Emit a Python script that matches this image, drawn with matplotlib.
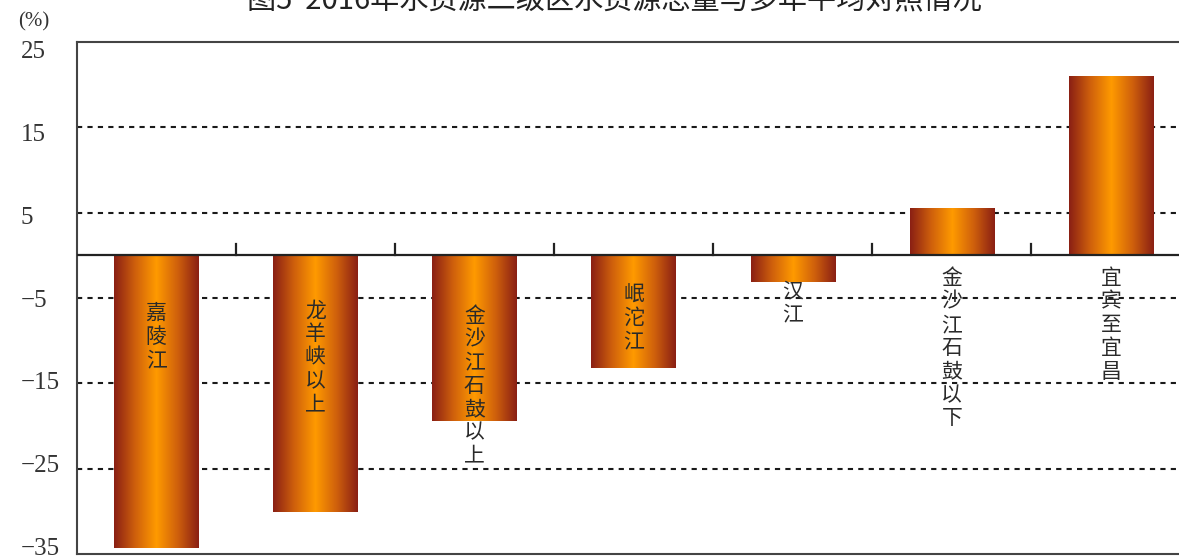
import numpy as np
import matplotlib
matplotlib.use('Agg')
import matplotlib.pyplot as plt
from matplotlib.colors import LinearSegmentedColormap
from matplotlib.transforms import ScaledTranslation

plt.rcParams['font.family'] = ['Noto Sans CJK SC', 'DejaVu Sans']

# 2016 water resources vs. long-term average, by secondary basin (%)
regions = ['嘉陵江', '龙羊峡以上', '金沙江石鼓以上', '岷沱江', '汉江', '金沙江石鼓以下', '宜宾至宜昌']
change = [-34.3, -30.1, -19.4, -13.2, -3.1, 5.4, 20.9]
yticks = [25, 15, 5, -5, -15, -25, -35]
title = '图5  2016年水资源二级区水资源总量与多年平均对照情况'

# where each vertical label starts (top of first character)
label_top = [-5.5, -5.2, -5.8, -3.3, -2.9, -1.4, -1.4]

fig = plt.figure(figsize=(11.79, 5.59), dpi=100)
ax = fig.add_axes([0.0649, 0.0089, 0.9449, 0.916])

x = np.arange(len(regions))
bars = ax.bar(x, change, width=0.53, color='none', edgecolor='none', zorder=3)

# copper-ish horizontal gradient inside each bar
grad = LinearSegmentedColormap.from_list(
    'copper_bar', ['#8a1f14', '#cf600c', '#ff9a00', '#cf600c', '#8a1f14'])
ramp = np.linspace(0, 1, 256).reshape(1, -1)
for b in bars:
    x0, y0 = b.get_x(), b.get_y()
    w, h = b.get_width(), b.get_height()
    ax.imshow(ramp, cmap=grad, aspect='auto', interpolation='bilinear',
              extent=[x0, x0 + w, min(y0, y0 + h), max(y0, y0 + h)], zorder=3)

# dotted reference lines
for v in yticks[1:-1]:
    ax.axhline(v, color='#1a1a1a', lw=1.5, linestyle=(0, (2.5, 2.5)), zorder=1)

# zero line with small separators between basins
ax.axhline(0, color='#222222', lw=1.6, zorder=4)
for sep in x[:-1] + 0.5:
    ax.plot([sep, sep], [0, 1.3], color='#222222', lw=1.6, zorder=4)

# vertical labels, one character per line
for i, (name, top) in enumerate(zip(regions, label_top)):
    for j, ch in enumerate(name):
        ax.annotate(ch, (i, top), xytext=(0, -j * 16.8), textcoords='offset points',
                    ha='center', va='top', fontsize=15, color='#2a2a2a', zorder=5)

ax.set_xlim(-0.5, len(regions) - 0.5)
ax.set_ylim(-35, 25)
ax.set_xticks([])
ax.set_yticks(yticks)
ax.set_yticklabels([str(v).replace('-', '\u2212') for v in yticks],
                   family='Liberation Serif', fontsize=18, color='#333333', ha='left')
ax.tick_params(axis='y', length=0, pad=40)

# tick labels sit a little tighter than the grid, nudge them toward the middle
for lab, v in zip(ax.get_yticklabels(), yticks):
    dy = (v + 5) * 0.17
    lab.set_transform(lab.get_transform() + ScaledTranslation(0, dy / 72 * -1, fig.dpi_scale_trans))

for side in ['left', 'top', 'bottom']:
    ax.spines[side].set_color('#444444')
    ax.spines[side].set_linewidth(1.5)
ax.spines['right'].set_visible(False)

fig.text(34 / 1179, 1 - 22 / 559, '(%)', ha='center', va='center',
         family='Liberation Serif', fontsize=15, color='#333333')
fig.text(0.521, 0.998, title, ha='center', va='center', fontsize=21, color='#222222')

fig.savefig('out.png', dpi=100)
